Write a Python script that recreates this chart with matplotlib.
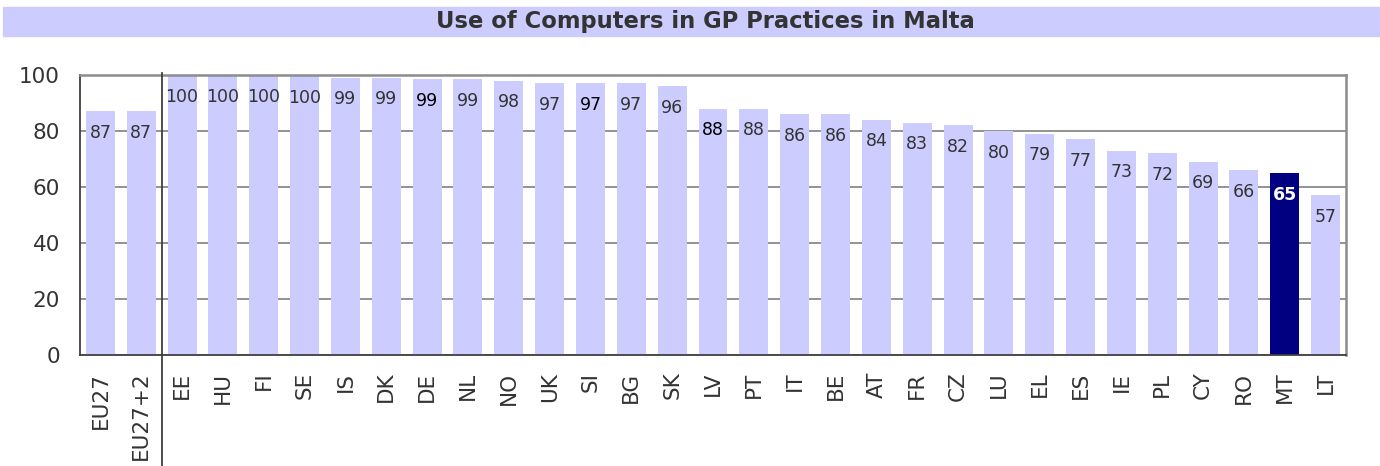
import matplotlib
matplotlib.use("Agg")
import matplotlib.pyplot as plt

categories = ["EU27", "EU27+2", "EE", "HU", "FI", "SE", "IS", "DK", "DE", "NL", "NO",
              "UK", "SI", "BG", "SK", "LV", "PT", "IT", "BE", "AT", "FR", "CZ", "LU",
              "EL", "ES", "IE", "PL", "CY", "RO", "MT", "LT"]
values = [87, 87, 100, 100, 100, 99.5, 99, 99, 98.5, 98.5, 98, 97, 97, 97, 96, 88, 88,
          86, 86, 84, 83, 82, 80, 79, 77, 73, 72, 69, 66, 65, 57]
labels = [87, 87, 100, 100, 100, 100, 99, 99, 99, 99, 98, 97, 97, 97, 96, 88, 88,
          86, 86, 84, 83, 82, 80, 79, 77, 73, 72, 69, 66, 65, 57]
highlight = "MT"
black_labels = ["DE", "SI", "LV"]
title = "Use of Computers in GP Practices in Malta"

plt.rcParams['font.family'] = ['DejaVu Sans']

fig = plt.figure(figsize=(13.8, 4.66), dpi=100)
W, H = 1380, 466
ax = fig.add_axes([80 / W, 1 - 355 / H, (1346 - 80) / W, (355 - 75) / H])

light = "#CCCCFF"
dark = "#000080"
txt = "#333333"

x = list(range(len(categories)))
colors = [dark if c == highlight else light for c in categories]
ax.bar(x, values, width=0.71, color=colors, zorder=2)

for i, (c, v, l) in enumerate(zip(categories, values, labels)):
    if c == highlight:
        col, fw = "white", "bold"
    elif c in black_labels:
        col, fw = "black", "normal"
    else:
        col, fw = txt, "normal"
    ax.annotate(str(l), (i, v), xytext=(0, -15.5), textcoords="offset points",
                ha="center", va="center", fontsize=12.5, color=col, fontweight=fw,
                zorder=3)

ax.set_xlim(-0.5, len(categories) - 0.5)
ax.set_ylim(0, 100)
ax.set_yticks([0, 20, 40, 60, 80, 100])
ax.yaxis.grid(True, color="#808080", linewidth=1.2, zorder=1)
ax.set_axisbelow(True)
ax.tick_params(axis="y", length=0, pad=14.5, labelsize=15.5, labelcolor=txt)
ax.set_xticks(x)
ax.set_xticklabels(categories, rotation=90, fontsize=15.5, color=txt)
ax.tick_params(axis="x", length=0, pad=12)

for side in ["top", "right"]:
    ax.spines[side].set_color("#8c8c8c")
    ax.spines[side].set_linewidth(1.8)
for side in ["left", "bottom"]:
    ax.spines[side].set_color("#404040")
    ax.spines[side].set_linewidth(1.3)

# separator between aggregates and countries
ax.plot([1.5, 1.5], [100.7, -39.5], color="#404040", linewidth=1.3,
        clip_on=False, zorder=4)

# title bar
fig.patches.append(plt.Rectangle((3 / W, 1 - 36 / H), (W - 3) / W, 29 / H,
                                 transform=fig.transFigure, color=light,
                                 zorder=0))
fig.text(705 / W, 1 - 21.5 / H, title, ha="center", va="center", fontsize=16.3,
         fontweight="bold", color=txt)

fig.savefig("out.png", dpi=100)
